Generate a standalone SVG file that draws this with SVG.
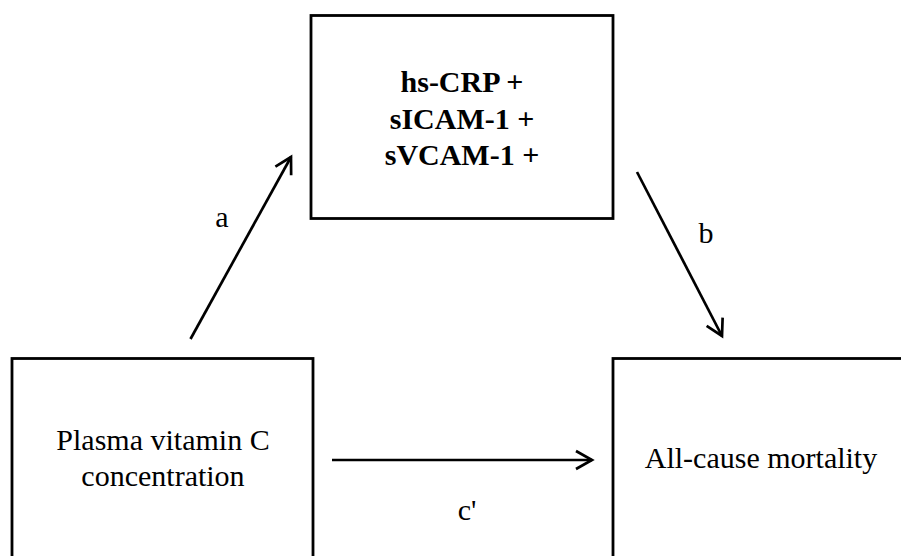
<svg xmlns="http://www.w3.org/2000/svg" width="901" height="556" viewBox="0 0 901 556">
<style>
.box{fill:#fff;stroke:#000;stroke-width:2.8}
.t{font-family:"Liberation Serif","Times New Roman",serif;font-size:30px;fill:#000;text-anchor:middle}
.b{font-weight:bold}
.c{stroke:#000;stroke-width:2.7;fill:none}
</style>
<defs>
<marker id="ah" markerUnits="userSpaceOnUse" viewBox="0 0 22 22" refX="19" refY="11" markerWidth="22" markerHeight="22" orient="auto">
<path d="M3,2 L19,11 L3,20" fill="none" stroke="#000" stroke-width="2.7" stroke-linejoin="miter"/>
</marker>
</defs>
<rect width="901" height="556" fill="#fff"/>
<g id="node-mediators">
<rect class="box" x="311" y="15.5" width="302" height="203"/>
<text class="t b" x="462" y="92">hs-CRP +</text>
<text class="t b" x="462" y="128.5">sICAM-1 +</text>
<text class="t b" x="462" y="165">sVCAM-1 +</text>
</g>
<g id="node-exposure">
<rect class="box" x="12" y="358.5" width="301" height="210"/>
<text class="t" x="163" y="450">Plasma vitamin C</text>
<text class="t" x="163" y="486">concentration</text>
</g>
<g id="node-outcome">
<rect class="box" x="613" y="358.5" width="300" height="210"/>
<text class="t" x="761" y="468">All-cause mortality</text>
</g>
<g id="connectors">
<line class="c" x1="190.5" y1="339" x2="291" y2="157" marker-end="url(#ah)"/>
<line class="c" x1="637" y1="172" x2="722" y2="336" marker-end="url(#ah)"/>
<line class="c" x1="332" y1="460" x2="592" y2="460" marker-end="url(#ah)"/>
<text class="t" x="222" y="227">a</text>
<text class="t" x="706" y="243">b</text>
<text class="t" x="467" y="520">c'</text>
</g>
</svg>
